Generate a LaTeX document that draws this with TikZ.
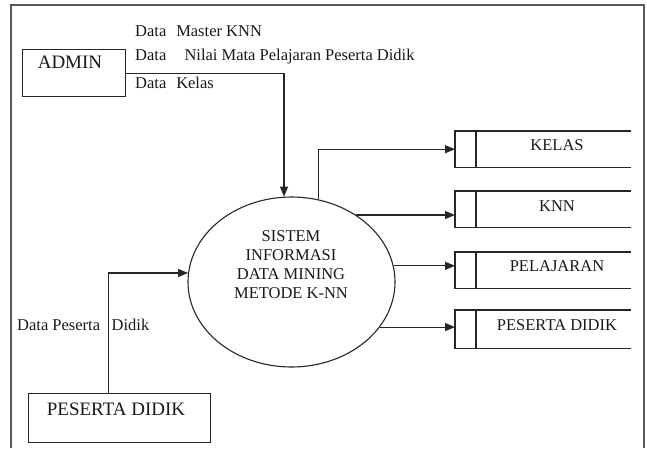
\documentclass[tikz,border=0pt]{standalone}
\usepackage{fontspec}
\setmainfont{Liberation Serif}
\usetikzlibrary{shapes.geometric,arrows.meta,calc}
\begin{document}
\begin{tikzpicture}[x=1pt,y=-1pt,
  line/.style={draw=black!85, line width=1.1pt},
  arr/.style={line, -{Triangle[length=10pt,width=8pt]}},
  txt/.style={font=\fontsize{16.5}{19}\selectfont, inner sep=0pt, text=black!90},
  bigtxt/.style={font=\fontsize{19}{21}\selectfont, inner sep=0pt, text=black!90},
  extbox/.style={line, rectangle, inner sep=0pt, anchor=north west},
  storearea/.style={rectangle, inner sep=0pt, anchor=north west, minimum width=176pt},
  storeline/.style={line},
]
\useasboundingbox (0,0) rectangle (647,448);
\fill[white] (0,0) rectangle (647,448);
\draw[draw=black!65, line width=1.4pt] (11,448) -- (11,5) -- (644,5) -- (644,448);

% external entities
\node[extbox, minimum width=103pt, minimum height=47pt] (admin) at (22,49) {};
\node[bigtxt, anchor=base] at (70,68.5) {ADMIN};
\node[extbox, minimum width=182pt, minimum height=49pt] (psd) at (28,393) {};
\node[bigtxt, anchor=base] at (116,415) {PESERTA DIDIK};

% process
\node[draw=black!85, line width=1.1pt, ellipse, inner sep=0pt, minimum width=207pt, minimum height=170pt] (e) at (291.5,282) {};
\node[txt, anchor=base, align=center] at (291,298) {SISTEM\\INFORMASI\\DATA MINING\\METODE K-NN};

% data stores
\node[storearea, minimum height=36pt] (kelas) at (455,131) {};
\node[storearea, minimum height=36pt] (knn) at (455,191) {};
\node[storearea, minimum height=36pt] (pel) at (455,252) {};
\node[storearea, minimum height=38pt] (pes) at (455,310) {};
\foreach \s in {kelas,knn,pel,pes}{
  \draw[storeline] (\s.north east) -- (\s.north west) -- (\s.south west) -- (\s.south east);
  \draw[storeline] ([xshift=21pt]\s.north west) -- ([xshift=21pt]\s.south west);
}
\node[txt, anchor=base] at (557,150) {KELAS};
\node[txt, anchor=base] at (557,211) {KNN};
\node[txt, anchor=base] at (557,271.5) {PELAJARAN};
\node[txt, anchor=base] at (557,330) {PESERTA DIDIK};

% flows
\draw[arr] (admin.east) -| (e.95.9);
\draw[arr] (e.72.26) |- (kelas.west);
\draw[arr] (e.46.67) -- (e.46.67 -| knn.west);
\draw[arr] (e.9.06) -- (e.9.06 -| pel.west);
\draw[arr] (e.-27.71) -- (e.-27.71 -| pes.west);
\draw[arr] ([xshift=-11pt]psd.north) |- (e.175.45);

% flow labels
\node[txt, anchor=base west] at (135,36) {Data\hspace{0.6em}Master KNN};
\node[txt, anchor=base west] at (135,60) {Data\hspace{1.1em}Nilai Mata Pelajaran Peserta Didik};
\node[txt, anchor=base west] at (135,88) {Data\hspace{0.6em}Kelas};
\node[txt, anchor=base west] at (17,330) {Data Peserta\hspace{0.7em}Didik};
\end{tikzpicture}
\end{document}
